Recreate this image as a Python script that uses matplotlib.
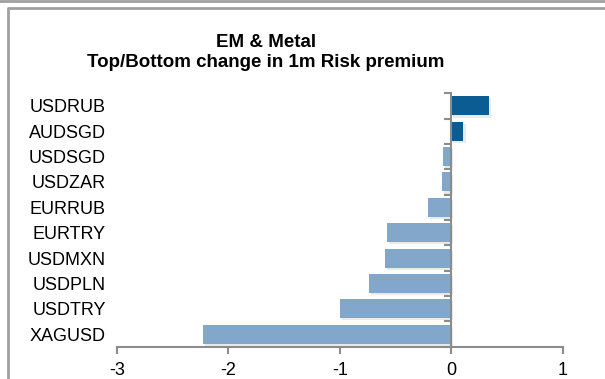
import numpy as np
import matplotlib.pyplot as plt
import matplotlib.patheffects as pe
from matplotlib.lines import Line2D

plt.rcParams['font.family'] = ['Liberation Sans', 'DejaVu Sans']

pairs = ['XAGUSD', 'USDTRY', 'USDPLN', 'USDMXN', 'EURTRY',
         'EURRUB', 'USDZAR', 'USDSGD', 'AUDSGD', 'USDRUB']
values = [-2.23, -1.0, -0.74, -0.59, -0.58, -0.21, -0.08, -0.075, 0.11, 0.34]

dark = '#0B5C92'
light = '#82A7CB'
grey = '#8C8C8C'


def main():
    fig = plt.figure(figsize=(6.05, 3.79), dpi=100)
    ax = fig.add_axes([0.193, 0.085, 0.737, 0.669])

    y = np.arange(len(pairs))
    colors = [dark if v > 0 else light for v in values]
    bars = ax.barh(y, values, height=0.75, color=colors, zorder=2)
    for b in bars:
        b.set_path_effects([pe.SimplePatchShadow(offset=(1.5, -1.5), shadow_rgbFace='#BBBBBB', alpha=0.3),
                            pe.Normal()])

    ax.set_xlim(-3, 1)
    ax.set_ylim(-0.5, len(pairs) - 0.5)
    ax.set_xticks([-3, -2, -1, 0, 1])
    ax.set_xticklabels(['-3', '-2', '-1', '0', '1'])
    ax.set_yticks(y)
    ax.set_yticklabels(pairs)
    ax.tick_params(axis='y', length=0, pad=8, labelsize=13, colors='#000000')
    ax.tick_params(axis='x', length=5, width=1.5, color=grey, labelsize=13, pad=6)

    for s in ['top', 'right', 'left']:
        ax.spines[s].set_visible(False)
    ax.spines['bottom'].set_color(grey)
    ax.spines['bottom'].set_linewidth(1.5)

    # vertical axis line at zero with ticks between categories
    sec = ax.secondary_yaxis(0.75)
    sec.set_zorder(5)
    sec.set_yticks(np.arange(len(pairs) + 1) - 0.5)
    sec.set_yticklabels([])
    sec.tick_params(axis='y', length=5, width=1.5, color=grey, direction='in')
    for s in sec.spines.values():
        s.set_color(grey)
        s.set_linewidth(1.5)

    fig.text(0.439, 0.862, 'EM & Metal\nTop/Bottom change in 1m Risk premium',
             ha='center', va='center', fontsize=13.5, fontweight='bold',
             linespacing=1.2)

    # outer frame lines
    fig.add_artist(Line2D([0, 1], [0.998, 0.998], color='#A0A0A0', lw=2))
    fig.add_artist(Line2D([0.0125, 0.0125, 1.0], [0.0, 0.980, 0.980], color='#A0A0A0', lw=2))

    fig.savefig('out.png', dpi=100)


main()
